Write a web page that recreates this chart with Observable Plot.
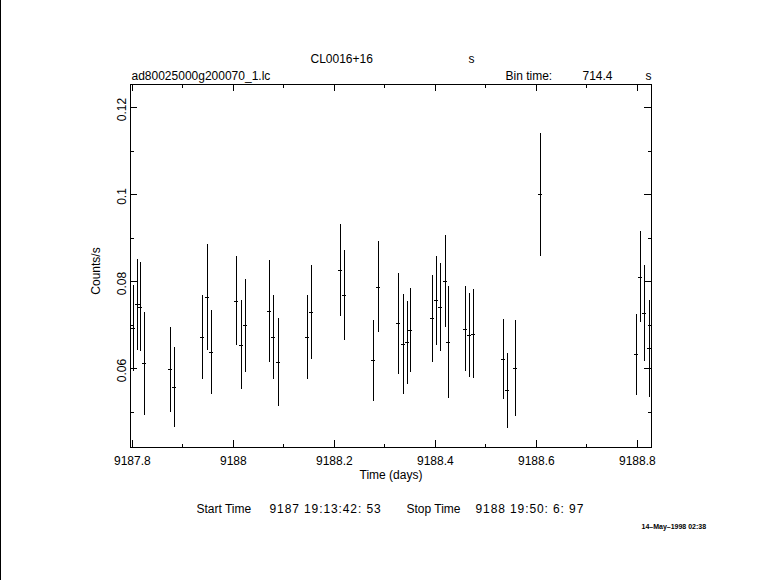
<!DOCTYPE html>
<html>
<head>
<meta charset="utf-8">
<script src="https://cdn.jsdelivr.net/npm/d3@7"></script>
<script src="https://cdn.jsdelivr.net/npm/@observablehq/plot@0.6"></script>
<style>
html, body { margin: 0; padding: 0; background: #fff; }
#wrap { position: relative; width: 781px; height: 580px; overflow: hidden; }
#edge { position: absolute; left: 0; top: 0; width: 1px; height: 580px; background: #000; }
</style>
</head>
<body>
<div id="wrap"><div id="edge"></div></div>
<script>
// Light curve: bin centre time (days), count rate (counts/s), 1-sigma error
const time = [
  9187.8029, 9187.8112, 9187.8168, 9187.8247,
  9187.8762, 9187.8841,
  9187.9395, 9187.9494, 9187.9573,
  9188.0068, 9188.0167, 9188.0246,
  9188.0721, 9188.0800, 9188.0899,
  9188.1473, 9188.1552,
  9188.2126, 9188.2205,
  9188.2779, 9188.2878,
  9188.3274, 9188.3373, 9188.3452, 9188.3511,
  9188.3947, 9188.4026, 9188.4105, 9188.4204, 9188.4263,
  9188.4600, 9188.4679, 9188.4758,
  9188.5352, 9188.5431, 9188.5589,
  9188.6084,
  9188.7984, 9188.8063, 9188.8142, 9188.8241
];
const rate = [
  0.0692, 0.0746, 0.0741, 0.0611,
  0.0597, 0.0556,
  0.0671, 0.0763, 0.0637,
  0.0755, 0.0654, 0.0698,
  0.0731, 0.0671, 0.0614,
  0.0671, 0.0729,
  0.0825, 0.0768,
  0.0618, 0.0787,
  0.0703, 0.0656, 0.0659, 0.0687,
  0.0714, 0.0756, 0.0741, 0.0800, 0.0660,
  0.0690, 0.0676, 0.0679,
  0.0621, 0.0549, 0.0600,
  0.0999,
  0.0632, 0.0810, 0.0726, 0.0645
];
const rateErr = [
  0.0098, 0.0105, 0.0102, 0.0118,
  0.0097, 0.0092,
  0.0097, 0.0122, 0.0097,
  0.0102, 0.0102, 0.0107,
  0.0117, 0.0097, 0.0101,
  0.0097, 0.0108,
  0.0106, 0.0103,
  0.0093, 0.0105,
  0.0116, 0.0115, 0.0095, 0.0097,
  0.0100, 0.0102, 0.0101, 0.0105, 0.0128,
  0.0098, 0.0096, 0.0103,
  0.0092, 0.0086, 0.0110,
  0.0141,
  0.0093, 0.0105, 0.0111, 0.0111
];
const binTime = 714.4;               // seconds
const xDomain = [9187.7964, 9188.8281];
const yDomain = [0.04184, 0.12529];
const xMajor = [9187.8, 9188, 9188.2, 9188.4, 9188.6, 9188.8];
const xMinor = [9187.9, 9188.1, 9188.3, 9188.5, 9188.7];
const xTickLabels = ["9187.8", "9188", "9188.2", "9188.4", "9188.6", "9188.8"];
const yMajor = [0.06, 0.08, 0.1, 0.12];
const yMinor = [0.05, 0.07, 0.09, 0.11];
const yTickLabels = ["0.06", "0.08", "0.1", "0.12"];

const data = time.map((t, i) => ({t, r: rate[i], e: rateErr[i]}));
const halfBin = binTime / 2 / 86400;

const W = 781, H = 580, mL = 130, mR = 130, mT = 84, mB = 133;
const pw = W - mL - mR, ph = H - mT - mB;
const majLen = 7, minLen = 3.5;
const font = "'Liberation Sans', Arial, sans-serif";
const crisp = {stroke: "black", shapeRendering: "crispEdges"};

const chart = Plot.plot({
  width: W, height: H,
  marginLeft: mL, marginRight: mR, marginTop: mT, marginBottom: mB,
  x: {domain: xDomain, axis: null},
  y: {domain: yDomain, axis: null},
  style: {fontFamily: font, fontSize: "12px", color: "black", background: "white", overflow: "visible"},
  marks: [
    Plot.frame(crisp),
    // inward ticks on all four sides
    Plot.tickX(xMajor, {...crisp, insetTop: ph - majLen}),
    Plot.tickX(xMajor, {...crisp, insetBottom: ph - majLen}),
    Plot.tickX(xMinor, {...crisp, insetTop: ph - minLen}),
    Plot.tickX(xMinor, {...crisp, insetBottom: ph - minLen}),
    Plot.tickY(yMajor, {...crisp, insetRight: pw - majLen}),
    Plot.tickY(yMajor, {...crisp, insetLeft: pw - majLen}),
    Plot.tickY(yMinor, {...crisp, insetRight: pw - minLen}),
    Plot.tickY(yMinor, {...crisp, insetLeft: pw - minLen}),
    // tick labels
    Plot.text(xMajor, {x: d => d, text: (d, i) => xTickLabels[i], frameAnchor: "bottom", lineAnchor: "top", dy: 9, fill: "black"}),
    Plot.text(yMajor, {y: d => d, text: (d, i) => yTickLabels[i], frameAnchor: "left", textAnchor: "middle", rotate: -90, lineAnchor: "bottom", dx: -5, dy: 2, fill: "black"}),
    // axis titles
    Plot.text(["Time (days)"], {frameAnchor: "bottom", lineAnchor: "bottom", dy: 31, fill: "black"}),
    Plot.text(["Counts/s"], {frameAnchor: "left", textAnchor: "middle", rotate: -90, lineAnchor: "bottom", dx: -31, dy: 5, fill: "black"}),
    // header texts
    Plot.text(["CL0016+16"], {frameAnchor: "top-left", textAnchor: "start", lineAnchor: "bottom", dx: 180, dy: -22, fill: "black"}),
    Plot.text(["s"], {frameAnchor: "top-left", textAnchor: "start", lineAnchor: "bottom", dx: 338, dy: -22, fill: "black"}),
    Plot.text(["ad80025000g200070_1.lc"], {frameAnchor: "top-left", textAnchor: "start", lineAnchor: "bottom", dx: 1, dy: -5, fill: "black"}),
    Plot.text(["Bin time:"], {frameAnchor: "top-left", textAnchor: "start", lineAnchor: "bottom", dx: 375, dy: -5, fill: "black"}),
    Plot.text([String(binTime)], {frameAnchor: "top-left", textAnchor: "start", lineAnchor: "bottom", dx: 452, dy: -5, fill: "black"}),
    Plot.text(["s"], {frameAnchor: "top-left", textAnchor: "start", lineAnchor: "bottom", dx: 515, dy: -5, fill: "black"}),
    // footer texts
    Plot.text(["Start Time"], {frameAnchor: "bottom-left", textAnchor: "start", lineAnchor: "bottom", dx: 66, dy: 65, fill: "black"}),
    Plot.text(["9187 19:13:42: 53"], {frameAnchor: "bottom-left", textAnchor: "start", lineAnchor: "bottom", dx: 139, dy: 65, fill: "black"}),
    Plot.text(["Stop Time"], {frameAnchor: "bottom-left", textAnchor: "start", lineAnchor: "bottom", dx: 276, dy: 65, fill: "black"}),
    Plot.text(["9188 19:50: 6: 97"], {frameAnchor: "bottom-left", textAnchor: "start", lineAnchor: "bottom", dx: 345, dy: 65, fill: "black"}),
    Plot.text(["14\u2013May\u20131998 02:38"], {frameAnchor: "bottom-left", textAnchor: "start", lineAnchor: "bottom", dx: 511, dy: 81, fontSize: 7, fontWeight: "bold", fill: "black"}),
    // data: y error bars and bin-width bars
    Plot.ruleX(data, {x: "t", y1: d => d.r - d.e, y2: d => d.r + d.e, ...crisp, strokeWidth: 1}),
    Plot.ruleY(data, {y: "r", x1: d => d.t - halfBin, x2: d => d.t + halfBin, ...crisp, strokeWidth: 1})
  ]
});
// widen spacing of the footer time strings (Hershey-like glyph widths)
d3.select(chart).selectAll("text")
  .filter(function () { return /19:/.test(this.textContent); })
  .attr("letter-spacing", "0.9px");
document.getElementById("wrap").prepend(chart);
</script>
</body>
</html>
